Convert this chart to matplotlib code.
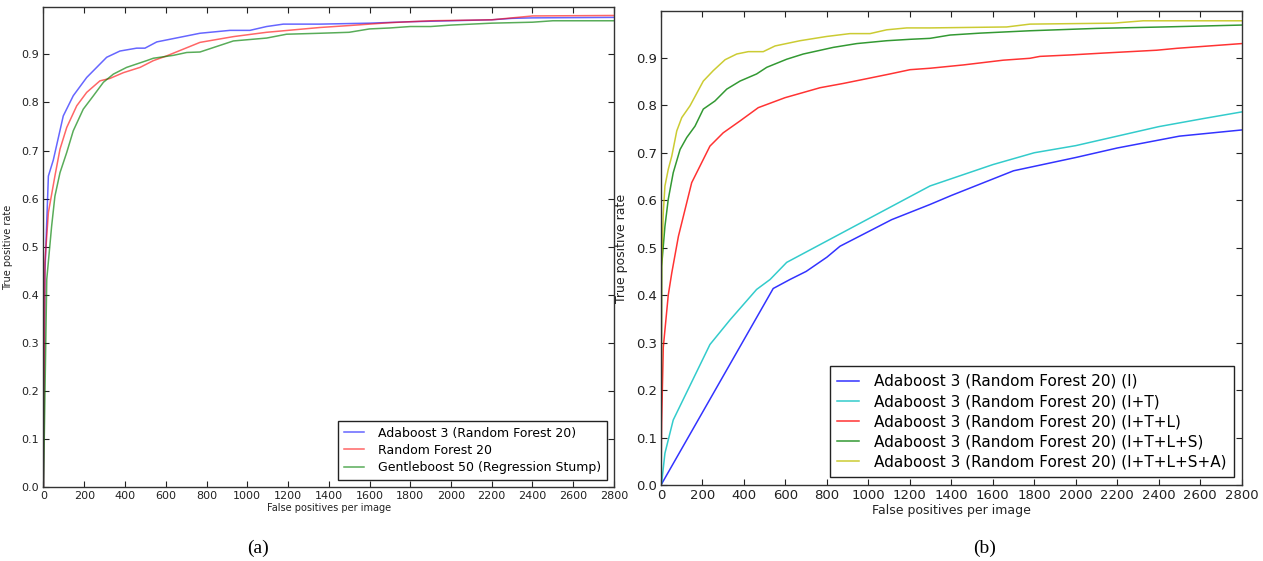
import matplotlib
matplotlib.use("Agg")
import matplotlib.pyplot as plt

# ---------------- Panel (a) data ----------------
a_labels = ["Adaboost 3 (Random Forest 20)", "Random Forest 20",
            "Gentleboost 50 (Regression Stump)"]

a_blue_x = [0, 7, 24, 48, 97, 146, 212, 310, 375, 457, 498, 556, 768, 915, 1013,
            1095, 1177, 1357, 1600, 1800, 2000, 2200, 2300, 2400, 2800]
a_blue_y = [0.0, 0.446, 0.647, 0.68, 0.772, 0.814, 0.852, 0.894, 0.907, 0.913, 0.913,
            0.926, 0.944, 0.95, 0.95, 0.958, 0.963, 0.963, 0.965, 0.968, 0.970,
            0.972, 0.975, 0.976, 0.977]

a_red_x = [0, 7, 24, 56, 81, 114, 163, 212, 277, 326, 392, 474, 539, 605, 768, 932,
           1095, 1357, 1500, 1700, 1900, 2200, 2300, 2400, 2800]
a_red_y = [0.0, 0.467, 0.571, 0.647, 0.703, 0.748, 0.793, 0.821, 0.845, 0.85, 0.862,
           0.873, 0.887, 0.897, 0.925, 0.937, 0.946, 0.956, 0.960, 0.966, 0.970,
           0.972, 0.976, 0.980, 0.981]

a_green_x = [0, 16, 40, 56, 81, 114, 146, 195, 245, 294, 343, 408, 506, 539, 637, 703,
             768, 932, 1095, 1193, 1357, 1500, 1600, 1700, 1800, 1900, 2000, 2200,
             2400, 2500, 2800]
a_green_y = [0.0, 0.432, 0.543, 0.605, 0.654, 0.696, 0.741, 0.786, 0.814, 0.842, 0.859,
             0.873, 0.887, 0.892, 0.898, 0.904, 0.905, 0.928, 0.934, 0.942, 0.944,
             0.946, 0.953, 0.955, 0.958, 0.958, 0.961, 0.965, 0.967, 0.970, 0.970]

# ---------------- Panel (b) data ----------------
b_labels = ["Adaboost 3 (Random Forest 20) (I)",
            "Adaboost 3 (Random Forest 20) (I+T)",
            "Adaboost 3 (Random Forest 20) (I+T+L)",
            "Adaboost 3 (Random Forest 20) (I+T+L+S)",
            "Adaboost 3 (Random Forest 20) (I+T+L+S+A)"]

b_I_x = [0, 541, 622, 700, 800, 863, 1112, 1297, 1400, 1700, 2000, 2200, 2500, 2800]
b_I_y = [0.0, 0.414, 0.433, 0.45, 0.48, 0.503, 0.559, 0.591, 0.61, 0.662, 0.69, 0.71,
         0.735, 0.748]

b_IT_x = [0, 3, 19, 59, 236, 333, 461, 526, 606, 1297, 1600, 1800, 2000, 2200, 2400,
          2615, 2800]
b_IT_y = [0.0, 0.004, 0.067, 0.137, 0.296, 0.348, 0.412, 0.433, 0.469, 0.63, 0.675,
          0.70, 0.715, 0.735, 0.755, 0.772, 0.786]

b_ITL_x = [0, 3, 11, 35, 52, 84, 148, 236, 300, 381, 469, 598, 767, 879, 992, 1104,
           1201, 1297, 1458, 1650, 1779, 1827, 1972, 2133, 2390, 2487, 2800]
b_ITL_y = [0.0, 0.13, 0.29, 0.40, 0.447, 0.524, 0.637, 0.714, 0.742, 0.767, 0.795,
           0.816, 0.837, 0.846, 0.856, 0.866, 0.875, 0.878, 0.885, 0.895, 0.899,
           0.903, 0.906, 0.91, 0.916, 0.92, 0.93]

b_ITLS_x = [0, 3, 19, 35, 59, 92, 124, 164, 204, 260, 317, 381, 461, 510, 606, 686,
            831, 944, 1088, 1201, 1297, 1394, 1538, 1779, 2101, 2422, 2800]
b_ITLS_y = [0.0, 0.461, 0.545, 0.602, 0.658, 0.707, 0.732, 0.756, 0.792, 0.809, 0.834,
            0.851, 0.866, 0.88, 0.897, 0.908, 0.922, 0.93, 0.936, 0.939, 0.941, 0.948,
            0.952, 0.957, 0.962, 0.965, 0.969]

b_ITLSA_x = [0, 3, 11, 19, 35, 52, 76, 100, 140, 204, 252, 309, 365, 421, 493, 550,
             670, 799, 911, 1008, 1088, 1185, 1297, 1667, 1779, 2180, 2325, 2800]
b_ITLSA_y = [0.0, 0.461, 0.574, 0.63, 0.665, 0.693, 0.746, 0.774, 0.799, 0.851, 0.873,
             0.896, 0.908, 0.913, 0.913, 0.925, 0.936, 0.945, 0.951, 0.951, 0.959,
             0.963, 0.963, 0.965, 0.971, 0.973, 0.978, 0.978]

xticks = list(range(0, 2801, 200))
yticks = [0.0, 0.1, 0.2, 0.3, 0.4, 0.5, 0.6, 0.7, 0.8, 0.9]

fig = plt.figure(figsize=(12.63, 5.61), dpi=100)
W, H = 1263.0, 561.0

def style_axes(ax, tick_fs, label_fs):
    ax.set_xlim(0, 2800)
    ax.set_ylim(0, 0.998)
    ax.set_xticks(xticks)
    ax.set_yticks(yticks)
    ax.set_yticklabels([f"{v:.1f}" for v in yticks])
    ax.tick_params(direction="in", top=True, right=True, length=4, width=0.8,
                   labelsize=tick_fs, colors="#222222", pad=3)
    for s in ax.spines.values():
        s.set_color("#333333")
        s.set_linewidth(1.0)
    ax.set_xlabel("False positives per image", fontsize=label_fs, color="#222222",
                  labelpad=1)
    ax.set_ylabel("True positive rate", fontsize=label_fs, color="#222222", labelpad=6)

# Panel (a)
axa = fig.add_axes([43.5 / W, 1 - 487 / H, (614 - 43.5) / W, (487 - 7.3) / H])
axa.plot(a_blue_x, a_blue_y, color="blue", alpha=0.6, lw=1.1, label=a_labels[0])
axa.plot(a_red_x, a_red_y, color="red", alpha=0.6, lw=1.1, label=a_labels[1])
axa.plot(a_green_x, a_green_y, color="green", alpha=0.65, lw=1.1, label=a_labels[2])
style_axes(axa, 8, 7)
la = axa.legend(loc="lower right", fontsize=9, fancybox=False, framealpha=1,
                edgecolor="#222222", handlelength=1.6, handletextpad=1.1,
                borderpad=0.45, borderaxespad=0.6, labelspacing=0.33)
la.get_frame().set_linewidth(1.0)

# Panel (b)
axb = fig.add_axes([661 / W, 1 - 485 / H, (1241.7 - 661) / W, (485 - 11.3) / H])
axb.plot(b_I_x, b_I_y, color="blue", alpha=0.8, lw=1.1, label=b_labels[0])
axb.plot(b_IT_x, b_IT_y, color="c", alpha=0.8, lw=1.1, label=b_labels[1])
axb.plot(b_ITL_x, b_ITL_y, color="red", alpha=0.8, lw=1.1, label=b_labels[2])
axb.plot(b_ITLS_x, b_ITLS_y, color="green", alpha=0.8, lw=1.1, label=b_labels[3])
axb.plot(b_ITLSA_x, b_ITLSA_y, color="y", alpha=0.8, lw=1.1, label=b_labels[4])
style_axes(axb, 9.5, 9)
lb = axb.legend(loc="lower right", fontsize=11, fancybox=False, framealpha=1,
                edgecolor="#222222", handlelength=1.45, handletextpad=0.95,
                borderpad=0.5, borderaxespad=0.5, labelspacing=0.34)
lb.get_frame().set_linewidth(1.0)

fig.text(258 / W, 1 - 548 / H, "(a)", family="Liberation Serif", fontsize=14,
         ha="center", va="center")
fig.text(985 / W, 1 - 548 / H, "(b)", family="Liberation Serif", fontsize=14,
         ha="center", va="center")

fig.savefig("out.png", dpi=100)
